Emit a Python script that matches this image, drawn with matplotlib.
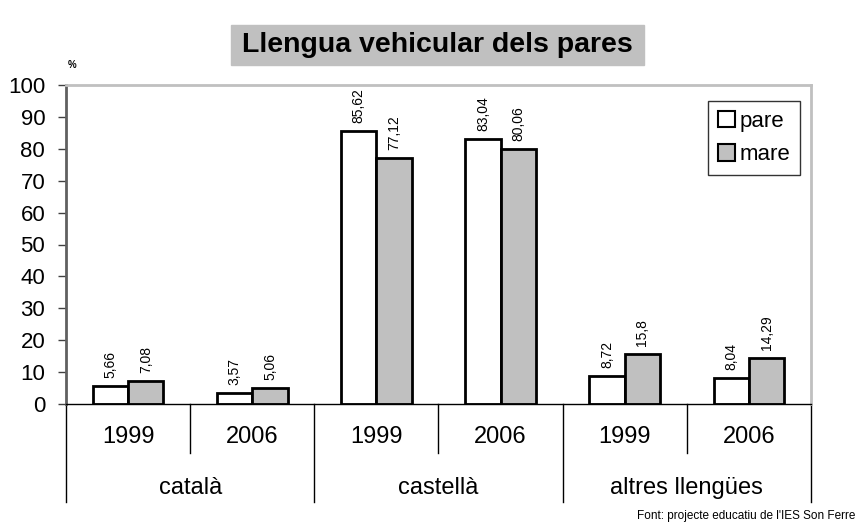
import matplotlib.pyplot as plt
from matplotlib.patches import Rectangle

plt.rcParams['font.family'] = ['Liberation Sans', 'DejaVu Sans']

# data
years = ['1999', '2006', '1999', '2006', '1999', '2006']
languages = ['català', 'castellà', 'altres llengües']
pare = [5.66, 3.57, 85.62, 83.04, 8.72, 8.04]
mare = [7.08, 5.06, 77.12, 80.06, 15.8, 14.29]
pare_labels = ['5,66', '3,57', '85,62', '83,04', '8,72', '8,04']
mare_labels = ['7,08', '5,06', '77,12', '80,06', '15,8', '14,29']

fig = plt.figure(figsize=(8.59, 5.24), dpi=100)
ax = fig.add_axes([66 / 859, 120 / 524, 745 / 859, 319 / 524])

x = list(range(len(years)))
w = 0.285
ax.bar([i - w / 2 for i in x], pare, w, color='white', edgecolor='black',
       linewidth=2, label='pare')
ax.bar([i + w / 2 for i in x], mare, w, color='#c0c0c0', edgecolor='black',
       linewidth=2, label='mare')

for i in x:
    ax.text(i - w / 2, pare[i] + 2.5, pare_labels[i], rotation=90, ha='center',
            va='bottom', fontsize=10)
    ax.text(i + w / 2, mare[i] + 2.5, mare_labels[i], rotation=90, ha='center',
            va='bottom', fontsize=10)

ax.set_xlim(-0.5, 5.5)
ax.set_ylim(0, 100)
ax.set_yticks(range(0, 101, 10))
ax.tick_params(axis='y', labelsize=16, direction='out', length=6, width=1,
               color='#404040', pad=9)
ax.set_xticks([])

ax.spines['left'].set_color('#606060')
ax.spines['left'].set_linewidth(2)
ax.spines['bottom'].set_color('black')
ax.spines['bottom'].set_linewidth(1)
ax.spines['top'].set_color('#c0c0c0')
ax.spines['top'].set_linewidth(2)
ax.spines['right'].set_color('#c0c0c0')
ax.spines['right'].set_linewidth(2)

# two level category axis
trans = ax.get_xaxis_transform()
short = -49 / 319
long_ = -98 / 319
for k in range(7):
    xs = k - 0.5
    y0 = long_ if k % 2 == 0 else short
    ax.plot([xs, xs], [0, y0], color='black', lw=1, transform=trans, clip_on=False)
for i, yr in enumerate(years):
    ax.text(i, -33 / 319, yr, transform=trans, ha='center', va='center', fontsize=17)
for j, lang in enumerate(languages):
    ax.text(2 * j + 0.5, -84 / 319, lang, transform=trans, ha='center',
            va='center', fontsize=17)

ax.text(72 / 859, 459 / 524, '%', transform=fig.transFigure, fontsize=7,
        fontweight='bold', ha='center', va='center')

leg = ax.legend(loc='upper right', bbox_to_anchor=(800 / 859, 423 / 524),
                bbox_transform=fig.transFigure, fontsize=16, frameon=True,
                fancybox=False, edgecolor='black', handlelength=0.75,
                handleheight=0.75, handletextpad=0.2, borderpad=0.45,
                labelspacing=0.55, borderaxespad=0)
leg.get_frame().set_linewidth(1)
for h in leg.legend_handles:
    h.set_linewidth(1.5)

# title box
fig.patches.append(Rectangle((231 / 859, 459 / 524), 413 / 859, 40 / 524,
                             transform=fig.transFigure, color='#c0c0c0', zorder=0))
fig.text(437 / 859, 479 / 524, 'Llengua vehicular dels pares', ha='center',
         va='center', fontsize=20.5, fontweight='bold')

fig.text(855 / 859, 8 / 524, "Font: projecte educatiu de l'IES Son Ferre",
         ha='right', va='center', fontsize=8.5)

fig.savefig('out.png', dpi=100)
